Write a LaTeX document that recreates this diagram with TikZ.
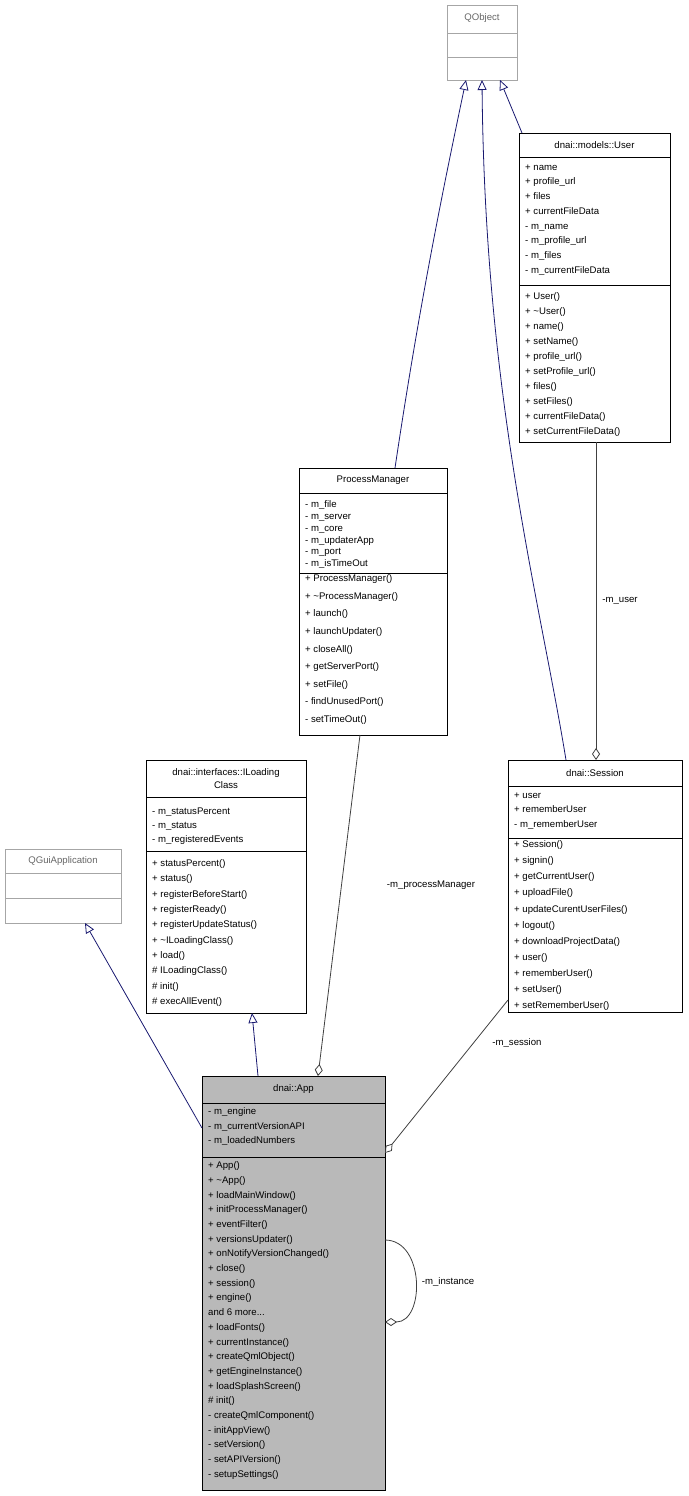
\documentclass[tikz,border=0pt]{standalone}
\usepackage{fontspec}
\setmainfont{Liberation Sans}
\usetikzlibrary{arrows.meta}
\definecolor{inh}{HTML}{191970}
\definecolor{asc}{HTML}{404040}
\tikzset{
 box/.style={draw=black,inner sep=0,anchor=north west},
 gbox/.style={draw=gray!70,inner sep=0,anchor=north west},
 txt/.style={inner sep=0,anchor=north west,align=left},
 ttl/.style={inner sep=0,align=center,font=\fontsize{9.6}{12.5}\selectfont},
 inhe/.style={draw=inh,line width=0.8pt,-{Triangle[open,length=10pt,width=9pt]}},
 comp/.style={draw=asc,line width=0.8pt,{Diamond[open,length=12pt,width=8pt]}-},
 lbl/.style={inner sep=1pt,font=\fontsize{9.6}{12}\selectfont}
}
% name, x1,y1,x2,y2, ya, yb, fill, title
\newcommand{\cbox}[9]{%
 \node[box,fill=#8,minimum width={#4-#2},minimum height={#5-#3}] (#1) at (#2,#3) {};
 \draw (#2,#6) -- (#4,#6) (#2,#7) -- (#4,#7);
 \node[ttl] (#1t) at ({(#2+#4)/2},{(#3+#6)/2}) {#9};
}
% name, x, first attr centre, attr spacing, first method centre, method spacing, attrs, methods
\newcommand{\ctext}[8]{%
 \node[txt,font=\fontsize{9.6}{#4}\selectfont] (#1a) at (#2+6,#3-4.5) {#7};
 \node[txt,font=\fontsize{9.6}{#6}\selectfont] (#1m) at (#2+6,#5-4.5) {#8};
}
\begin{document}
\begin{tikzpicture}[x=1pt,y=-1pt]
\useasboundingbox (0,0) rectangle (688,1496);
% QObject
\node[gbox,minimum width=70,minimum height=75] (qo) at (447,5) {};
\draw[gray!70] (447,33) -- (517,33) (447,57) -- (517,57);
\node[ttl,text=gray!80!black] (qot) at (482,18) {QObject};
% QGuiApplication
\node[gbox,minimum width=116,minimum height=74] (qg) at (5,849) {};
\draw[gray!70] (5,873) -- (121,873) (5,898) -- (121,898);
\node[ttl,text=gray!80!black] (qgt) at (63,861) {QGuiApplication};

\cbox{us}{519}{133}{670}{442}{157}{285}{white}{dnai::models::User}
\ctext{us}{519}{169}{14.7}{297}{15}
{+ name\\+ profile\_url\\+ files\\+ currentFileData\\- m\_name\\- m\_profile\_url\\- m\_files\\- m\_currentFileData}
{+ User()\\+ \textasciitilde User()\\+ name()\\+ setName()\\+ profile\_url()\\+ setProfile\_url()\\+ files()\\+ setFiles()\\+ currentFileData()\\+ setCurrentFileData()}

\cbox{pm}{299}{468}{447}{735}{493}{573}{white}{ProcessManager}
\ctext{pm}{299}{505}{11.8}{579}{17.6}
{- m\_file\\- m\_server\\- m\_core\\- m\_updaterApp\\- m\_port\\- m\_isTimeOut}
{+ ProcessManager()\\+ \textasciitilde ProcessManager()\\+ launch()\\+ launchUpdater()\\+ closeAll()\\+ getServerPort()\\+ setFile()\\- findUnusedPort()\\- setTimeOut()}

\cbox{il}{146}{760}{306}{1013}{797}{851}{white}{dnai::interfaces::ILoading\\Class}
\ctext{il}{146}{812}{14}{864}{15.3}
{- m\_statusPercent\\- m\_status\\- m\_registeredEvents}
{+ statusPercent()\\+ status()\\+ registerBeforeStart()\\+ registerReady()\\+ registerUpdateStatus()\\+ \textasciitilde ILoadingClass()\\+ load()\\\# ILoadingClass()\\\# init()\\\# execAllEvent()}

\cbox{se}{508}{760}{682}{1012}{786}{838}{white}{dnai::Session}
\ctext{se}{508}{797}{14.5}{845}{16.1}
{+ user\\+ rememberUser\\- m\_rememberUser}
{+ Session()\\+ signin()\\+ getCurrentUser()\\+ uploadFile()\\+ updateCurentUserFiles()\\+ logout()\\+ downloadProjectData()\\+ user()\\+ rememberUser()\\+ setUser()\\+ setRememberUser()}

\cbox{ap}{202}{1076}{385}{1490}{1103}{1157}{gray!55}{dnai::App}
\ctext{ap}{202}{1112}{14.5}{1166}{14.7}
{- m\_engine\\- m\_currentVersionAPI\\- m\_loadedNumbers}
{+ App()\\+ \textasciitilde App()\\+ loadMainWindow()\\+ initProcessManager()\\+ eventFilter()\\+ versionsUpdater()\\+ onNotifyVersionChanged()\\+ close()\\+ session()\\+ engine()\\and 6 more...\\+ loadFonts()\\+ currentInstance()\\+ createQmlObject()\\+ getEngineInstance()\\+ loadSplashScreen()\\\# init()\\- createQmlComponent()\\- initAppView()\\- setVersion()\\- setAPIVersion()\\- setupSettings()}

% inheritance
\draw[inhe] (395,468) .. controls (420,300) and (445,180) .. (466,80);
\draw[inhe] (566,760) .. controls (540,600) and (485,400) .. (482,80);
\draw[inhe] (522,133) -- (500,80);
\draw[inhe] (202,1128) -- (85,923);
\draw[inhe] (258,1076) -- (252,1013);
% composition
\draw[comp] (596,760) -- (596,442);
\node[lbl,fill=white] (lu) at (620,601) {-m\_user};
\draw[comp] (318,1076) -- (360,735);
\node[lbl] (lpm) at (431,885) {-m\_processManager};
\draw[comp] (385,1153) -- (508,1000);
\node[lbl] (lse) at (517,1043) {-m\_session};
\draw[comp] (385,1322) .. controls (425,1322) and (425,1240) .. (385,1240);
\node[lbl] (lin) at (448,1282) {-m\_instance};
\end{tikzpicture}
\end{document}
